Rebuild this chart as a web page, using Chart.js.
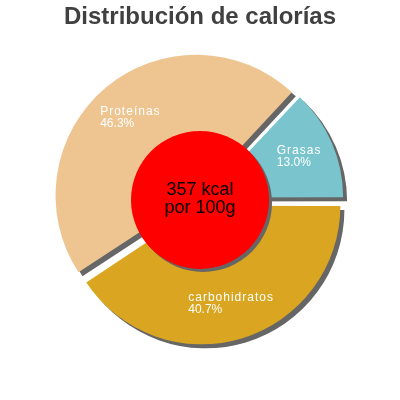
<!DOCTYPE html>
<html>
<head>
<meta charset="utf-8">
<script src="https://cdn.jsdelivr.net/npm/chart.js@4"></script>
<style>
  html, body { margin: 0; padding: 0; background: #fff; }
  #wrap { width: 400px; height: 400px; }
</style>
</head>
<body>
<div id="wrap"><canvas id="calChart" width="400" height="400"></canvas></div>
<script>
// Chart data
const labels = ['Grasas', 'carbohidratos', 'Proteínas'];
const percents = [13.0, 40.7, 46.3];
const colors = ['#7AC5CD', '#DAA520', '#EEC591'];
const centerLines = ['357 kcal', 'por 100g'];

const shadowColor = '#666666';
// Chart.js arcs move by offset / 4 pixels
const sliceOffset = 24;

// Shadow under the slices
const shadowPlugin = {
    id: 'shadowPlugin',
    beforeDatasetsDraw(chart) {
        const ctx = chart.ctx;
        ctx.save();
        ctx.shadowColor = shadowColor;
        ctx.shadowBlur = 0;
        ctx.shadowOffsetX = 4;
        ctx.shadowOffsetY = 4;
    },
    afterDatasetsDraw(chart) {
        chart.ctx.restore();
    }
};

// Slice labels and red center circle
const overlayPlugin = {
    id: 'overlayPlugin',
    afterDatasetsDraw(chart) {
        const ctx = chart.ctx;
        const meta = chart.getDatasetMeta(0);
        const shift = sliceOffset / 4;

        meta.data.forEach((arc, i) => {
            const mid = (arc.startAngle + arc.endAngle) / 2;
            const r = arc.outerRadius * 0.75 + shift;
            const bx = arc.x + Math.cos(mid) * r;
            const by = arc.y + Math.sin(mid) * r;
            ctx.save();
            ctx.fillStyle = '#ffffff';
            ctx.font = '12px "Liberation Sans", Arial, sans-serif';
            ctx.textAlign = 'left';
            ctx.textBaseline = 'middle';
            ctx.letterSpacing = '1px';
            const w1 = ctx.measureText(labels[i]).width;
            const left = bx - w1 / 2;
            ctx.fillText(labels[i], left, by - 6);
            ctx.letterSpacing = '0px';
            ctx.fillText(percents[i].toFixed(1) + '%', left, by + 6);
            ctx.restore();
        });

        const first = meta.data[0];
        const cx = first.x;
        const cy = first.y;
        const cr = 69;
        ctx.save();
        ctx.shadowColor = shadowColor;
        ctx.shadowBlur = 0;
        ctx.shadowOffsetX = 3;
        ctx.shadowOffsetY = 3;
        ctx.beginPath();
        ctx.arc(cx, cy, cr, 0, Math.PI * 2);
        ctx.fillStyle = '#ff0000';
        ctx.fill();
        ctx.restore();

        ctx.save();
        ctx.fillStyle = '#000000';
        ctx.font = '18px "Liberation Sans", Arial, sans-serif';
        ctx.textAlign = 'center';
        ctx.textBaseline = 'middle';
        ctx.fillText(centerLines[0], cx, cy - 10);
        ctx.fillText(centerLines[1], cx, cy + 8);
        ctx.restore();
    }
};

const ctx = document.getElementById('calChart').getContext('2d');
const calChart = new Chart(ctx, {
    type: 'pie',
    data: {
        labels: labels,
        datasets: [{
            data: percents,
            backgroundColor: colors,
            borderWidth: 0,
            offset: sliceOffset,
            hoverOffset: 0
        }]
    },
    options: {
        responsive: false,
        animation: false,
        rotation: 43.2,
        radius: 136,
        layout: { padding: { bottom: 32 } },
        plugins: {
            legend: { display: false },
            tooltip: { enabled: false },
            title: {
                display: true,
                text: 'Distribución de calorías',
                color: '#404040',
                font: { family: '"Liberation Sans", Arial, sans-serif', size: 24, weight: 'bold' },
                padding: { top: 3, bottom: 0 }
            }
        }
    },
    plugins: [shadowPlugin, overlayPlugin]
});
</script>
</body>
</html>
